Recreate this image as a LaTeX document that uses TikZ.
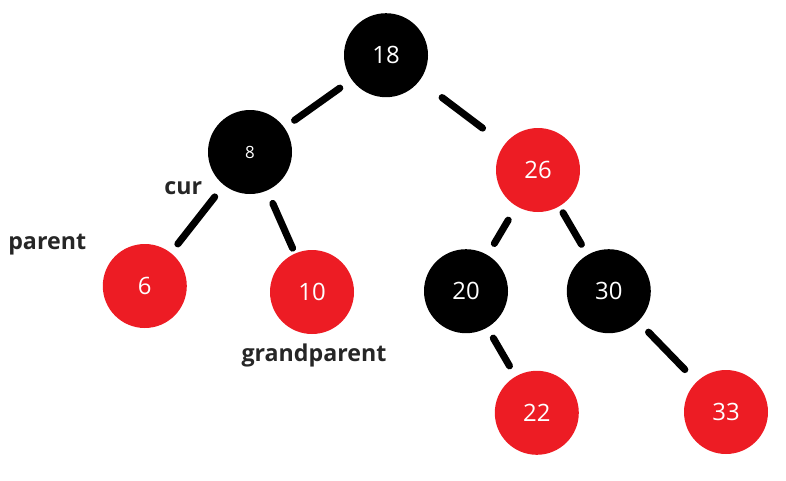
\documentclass[tikz,border=0pt]{standalone}
\usepackage{fontspec}
\setmainfont{Open Sans}
\usepackage{tikz}
\definecolor{rbred}{RGB}{237,28,36}

\begin{document}
\begin{tikzpicture}[
    rbnode/.style={circle, minimum size=2.1cm, inner sep=0pt, text=white,
                   font=\fontsize{17}{17}\selectfont},
    blk/.style={rbnode, fill=black},
    rd/.style={rbnode, fill=rbred},
    lbl/.style={font=\fontsize{16.5}{16.5}\selectfont\bfseries, text=black!85},
    edge/.style={line width=5pt, line cap=round}
  ]
  % frame of the picture: 786 x 480 px -> 19.65 x 12 cm
  \useasboundingbox (0,0) rectangle (19.65,-12);
  % tree nodes
  \node[blk] (n18) at (9.65,-1.38) {18};
  \node[blk, font=\fontsize{12}{12}\selectfont] (n8) at (6.25,-3.8) {8};
  \node[rd]  (n26) at (13.45,-4.25) {26};
  \node[rd]  (n6)  at (3.62,-7.15) {6};
  \node[rd]  (n10) at (7.8,-7.3) {10};
  \node[blk] (n20) at (11.65,-7.28) {20};
  \node[blk] (n30) at (15.22,-7.28) {30};
  \node[rd]  (n22) at (13.42,-10.32) {22};
  \node[rd]  (n33) at (18.15,-10.3) {33};
  % edges, drawn short of the circles (gap at each end in cm)
  \foreach \a/\b/\s/\e in {n18/n8/0.36/0.31, n18/n26/0.7/0.68, n8/n6/0.37/0.28,
      n8/n10/0.35/0.14, n26/n20/0.4/0.33, n26/n30/0.18/0.3,
      n20/n22/0.3/0.3, n30/n33/0.37/0.42}
    \draw[edge, shorten <=\s cm, shorten >=\e cm] (\a) -- (\b);
  % pointer labels
  \node[lbl] (cur) at (4.58,-4.7) {cur};
  \node[lbl] (par) at (1.18,-6.12) {parent};
  \node[lbl] (gpar) at (7.85,-8.88) {grandparent};
\end{tikzpicture}
\end{document}
